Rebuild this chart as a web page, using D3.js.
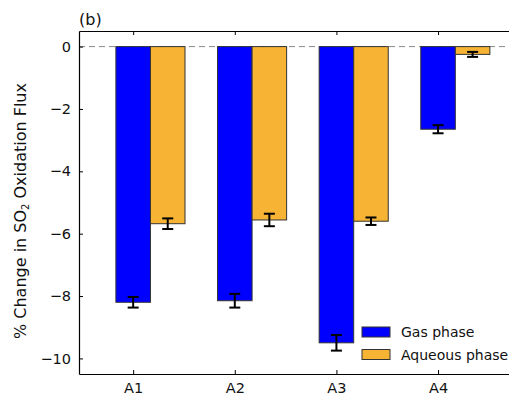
<!DOCTYPE html>
<html><head><meta charset="utf-8">
<script src="https://cdn.jsdelivr.net/npm/d3@7"></script>
<style>body{margin:0;background:#fff}svg{display:block}text{font-family:"DejaVu Sans",sans-serif}</style>
</head><body><svg id="c" width="509" height="397"></svg>
<script>
const categories = ["A1", "A2", "A3", "A4"];
const gasValues = [-8.2, -8.15, -9.5, -2.65];
const gasErrors = [0.17, 0.22, 0.25, 0.13];
const aqValues = [-5.68, -5.56, -5.6, -0.25];
const aqErrors = [0.17, 0.2, 0.12, 0.08];
const seriesNames = ["Gas phase", "Aqueous phase"];
const yTicks = [0, -2, -4, -6, -8, -10];

const colors = ["#0000ff", "#f7b334"];
const svg = d3.select("#c");
const L = 79, T = 31, B = 374, R = 560;
const barW = 0.34;
const x = d3.scaleLinear().domain([-0.533, 4.2]).range([L, R]);
const y = d3.scaleLinear().domain([0.5, -10.5]).range([T, B]);
const pxW = x(barW) - x(0);

// zero dashed line
svg.append("line").attr("x1", L).attr("x2", 509).attr("y1", y(0)).attr("y2", y(0))
  .attr("stroke", "#888").attr("stroke-width", 1).attr("stroke-dasharray", "6,4");

const series = [{v: gasValues, e: gasErrors, off: 0}, {v: aqValues, e: aqErrors, off: barW}];
series.forEach((s, si) => {
  const g = svg.append("g");
  g.selectAll("rect").data(categories).join("rect")
    .attr("x", (d, i) => x(i + s.off) - pxW / 2)
    .attr("y", y(0))
    .attr("width", pxW)
    .attr("height", (d, i) => y(s.v[i]) - y(0))
    .attr("fill", colors[si]).attr("stroke", "#333").attr("stroke-width", 1);
  categories.forEach((c, i) => {
    const cx = x(i + s.off), y1 = y(s.v[i] + s.e[i]), y2 = y(s.v[i] - s.e[i]);
    g.append("line").attr("x1", cx).attr("x2", cx).attr("y1", y1).attr("y2", y2).attr("stroke", "#000").attr("stroke-width", 2);
    [y1, y2].forEach(yy => g.append("line").attr("x1", cx - 5.5).attr("x2", cx + 5.5).attr("y1", yy).attr("y2", yy).attr("stroke", "#000").attr("stroke-width", 2));
  });
});

// axes
const tickVals = categories.map((c, i) => i);
const xb = svg.append("g").attr("transform", `translate(0,${B})`)
  .call(d3.axisBottom(x).tickValues(tickVals).tickFormat(i => categories[i]).tickSizeInner(-4).tickSizeOuter(0).tickPadding(9));
const xt = svg.append("g").attr("transform", `translate(0,${T})`)
  .call(d3.axisTop(x).tickValues(tickVals).tickFormat("").tickSizeInner(-4).tickSizeOuter(0));
const yl = svg.append("g").attr("transform", `translate(${L},0)`)
  .call(d3.axisLeft(y).tickValues(yTicks).tickFormat(d => d3.format("d")(d).replace("-", "\u2212")).tickSizeInner(-4).tickSizeOuter(0).tickPadding(8));
[xb, xt, yl].forEach(a => {
  a.select(".domain").attr("stroke", "#000").attr("stroke-width", 1.2);
  a.selectAll(".tick line").attr("stroke", "#000");
  a.selectAll("text").attr("font-size", 14.5).attr("fill", "#111").attr("font-family", "DejaVu Sans");
});

// y label
const yLab = svg.append("text").attr("transform", `translate(26,211) rotate(-90)`)
  .attr("text-anchor", "middle").attr("font-size", 16).attr("fill", "#111");
yLab.append("tspan").text("% Change in SO");
yLab.append("tspan").text("2").attr("font-size", 10).attr("dy", 3);
yLab.append("tspan").text(" Oxidation Flux").attr("dy", -3);

// panel label
svg.append("text").attr("x", 79).attr("y", 25).attr("font-size", 16).attr("fill", "#111").text("(b)");

// legend
seriesNames.forEach((n, i) => {
  const ly = 327 + i * 22.5;
  svg.append("rect").attr("x", 362).attr("y", ly).attr("width", 28).attr("height", 10)
    .attr("fill", colors[i]).attr("stroke", "#333").attr("stroke-width", 1);
  svg.append("text").attr("x", 401).attr("y", ly + 10).attr("font-size", 14).attr("fill", "#111").text(n);
});
</script></body></html>
